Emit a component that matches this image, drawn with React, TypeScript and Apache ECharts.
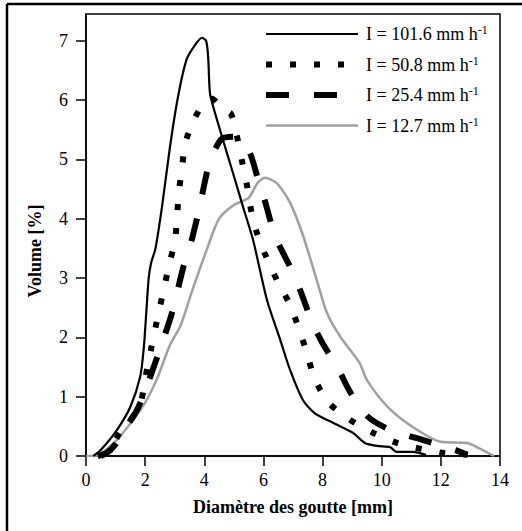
import React, { useEffect, useRef } from "react";
import * as echarts from "echarts";

const xTicks = [0, 2, 4, 6, 8, 10, 12, 14];
const yTicks = [0, 1, 2, 3, 4, 5, 6, 7];

const seriesNames = [
  "I = 101.6 mm h-1",
  "I = 50.8 mm h-1",
  "I = 25.4 mm h-1",
  "I = 12.7 mm h-1",
];

const diam101 = [0.25, 0.5, 1.05, 1.5, 1.83, 1.95, 2.05, 2.12, 2.2, 2.35, 2.57, 2.84, 3.11, 3.4, 3.69, 3.92, 4.06, 4.13, 4.19, 4.3, 4.63, 4.97, 5.31, 5.65, 6.12, 6.56, 6.9, 7.34, 7.74, 8.35, 9.03, 9.43, 9.84, 10.28, 10.5, 11.06, 11.5];
const vol101 = [0, 0.1, 0.44, 0.83, 1.33, 1.8, 2.5, 3.0, 3.25, 3.5, 4.2, 5.21, 6.05, 6.68, 6.93, 7.05, 7.0, 6.73, 6.12, 5.89, 5.33, 4.77, 4.2, 3.64, 2.63, 1.97, 1.45, 0.94, 0.72, 0.56, 0.39, 0.22, 0.17, 0.15, 0.07, 0.07, 0.02];

const diam50 = [0.5, 0.8, 1.15, 1.5, 1.85, 2.0, 2.2, 2.45, 2.65, 2.81, 3.01, 3.08, 3.14, 3.25, 3.35, 3.65, 4.0, 4.26, 4.6, 4.9, 5.1, 5.28, 5.44, 5.58, 5.78, 6.09, 6.49, 6.9, 7.2, 7.47, 7.71, 8.18, 8.9, 9.71, 10.52, 11.33, 12.1, 12.9];
const vol50 = [0, 0.1, 0.4, 0.6, 0.9, 1.3, 1.8, 2.4, 2.85, 3.22, 3.63, 4.03, 4.45, 4.86, 5.26, 5.67, 5.95, 6.02, 5.85, 5.77, 5.4, 4.96, 4.57, 4.15, 3.76, 3.36, 2.93, 2.55, 2.14, 1.74, 1.33, 0.91, 0.62, 0.39, 0.22, 0.12, 0.05, 0.02];

const diam25 = [0.4, 0.7, 1.0, 1.3, 1.7, 2.0, 2.5, 2.9, 3.3, 3.5, 3.8, 4.1, 4.3, 4.6, 5.0, 5.5, 5.8, 6.05, 6.4, 7.0, 7.3, 7.64, 8.0, 8.52, 8.93, 9.54, 10.28, 11.19, 11.9, 12.5, 12.9];
const vol25 = [0, 0.05, 0.2, 0.45, 0.75, 1.1, 1.8, 2.4, 3.2, 3.5, 4.1, 4.8, 5.1, 5.35, 5.38, 5.15, 4.7, 4.3, 3.7, 3.09, 2.72, 2.26, 1.9, 1.48, 1.08, 0.66, 0.44, 0.3, 0.19, 0.1, 0.02];

const diam12 = [0, 0.3, 1.0, 1.5, 2.0, 2.4, 2.84, 3.2, 3.6, 4.1, 4.5, 5.0, 5.5, 5.8, 6.05, 6.45, 6.9, 7.35, 7.8, 8.15, 8.6, 9.25, 9.5, 10.2, 11.05, 12.0, 12.9, 13.3, 13.8];
const vol12 = [0, 0, 0.25, 0.55, 0.9, 1.3, 1.87, 2.2, 2.8, 3.5, 4.0, 4.23, 4.35, 4.6, 4.69, 4.6, 4.27, 3.7, 2.97, 2.41, 2.01, 1.57, 1.28, 0.83, 0.49, 0.24, 0.22, 0.13, 0];

const FONT = "'Liberation Serif', 'Times New Roman', serif";

function pairs(xs: number[], ys: number[]) {
  return xs.map((x, i) => [x, ys[i]]);
}

export default function App() {
  const ref = useRef<HTMLDivElement>(null);
  useEffect(() => {
    document.body.style.margin = "0";
    if (!ref.current) return;
    const chart = echarts.init(ref.current, null, { renderer: "svg" });
    const styles = [
      { color: "#000", width: 2.2, type: "solid" as any },
      { color: "#000", width: 6, type: [6, 18] as any },
      { color: "#000", width: 6, type: [23, 25] as any },
      { color: "#a0a0a0", width: 2.5, type: "solid" as any },
    ];
    const datas = [
      pairs(diam101, vol101),
      pairs(diam50, vol50),
      pairs(diam25, vol25),
      pairs(diam12, vol12),
    ];
    chart.setOption({
      animation: false,
      backgroundColor: "#fff",
      textStyle: { fontFamily: FONT, color: "#000" },
      graphic: [
        { type: "line", shape: { x1: 7, y1: 4, x2: 7, y2: 531 }, style: { stroke: "#000", lineWidth: 2.5 } },
        { type: "line", shape: { x1: 7, y1: 4, x2: 522, y2: 4 }, style: { stroke: "#000", lineWidth: 2.5 } },
      ],
      grid: {
        left: 86,
        top: 14,
        width: 414,
        height: 442,
        show: true,
        borderColor: "#000",
        borderWidth: 1.5,
        containLabel: false,
        outerBoundsMode: "none",
      },
      legend: {
        orient: "vertical",
        left: 263,
        top: 24,
        padding: 0,
        itemWidth: 92,
        itemHeight: 14,
        itemGap: 11.5,
        data: seriesNames.map((n, i) => ({
          name: n,
          lineStyle: { color: styles[i].color, width: styles[i].width, type: styles[i].type, cap: "butt" },
        })),
        itemStyle: { color: "transparent", borderColor: "transparent", borderWidth: 0 },
        formatter: (name: string) => {
          const base = name.replace(/-1$/, "");
          return `{t|${base}}{s|-1}`;
        },
        textStyle: {
          fontFamily: FONT,
          color: "#000",
          fontSize: 18,
          padding: [0, 0, 0, 3],
          rich: {
            t: { fontFamily: FONT, fontSize: 18, color: "#000", lineHeight: 20 },
            s: { fontFamily: FONT, fontSize: 12, color: "#000", verticalAlign: "top", lineHeight: 13 },
          },
        },
      },
      xAxis: {
        type: "value",
        min: 0,
        max: 14,
        interval: 2,
        name: "Diamètre des goutte [mm]",
        nameLocation: "middle",
        nameGap: 42,
        nameTextStyle: { fontFamily: FONT, fontSize: 18, fontWeight: "bold", color: "#000" },
        axisLine: { show: true, onZero: false, lineStyle: { color: "#000", width: 1.5 } },
        axisTick: { show: true, length: 10, lineStyle: { color: "#000", width: 1.5 } },
        axisLabel: { fontFamily: FONT, fontSize: 18, color: "#000", margin: 15, customValues: xTicks },
        splitLine: { show: false },
      },
      yAxis: {
        type: "value",
        min: 0,
        max: 7.45,
        name: "Volume [%]",
        nameLocation: "middle",
        nameGap: 42,
        nameRotate: 90,
        nameTextStyle: { fontFamily: FONT, fontSize: 18, fontWeight: "bold", color: "#000", padding: [0, 32, 0, 0] },
        axisLine: { show: true, onZero: false, lineStyle: { color: "#000", width: 1.5 } },
        axisTick: { show: true, length: 10, lineStyle: { color: "#000", width: 1.5 }, customValues: yTicks },
        axisLabel: { fontFamily: FONT, fontSize: 18, color: "#000", margin: 18, customValues: yTicks },
        splitLine: { show: false },
      },
      series: seriesNames.map((n, i) => ({
        name: n,
        type: "line",
        data: datas[i],
        symbol: "none",
        smooth: 0.25,
        z: 4 - i,
        lineStyle: { color: styles[i].color, width: styles[i].width, type: styles[i].type, cap: "butt", join: "round" },
        itemStyle: { color: styles[i].color },
      })),
    });
    return () => chart.dispose();
  }, []);
  return <div ref={ref} style={{ width: 522, height: 531 }} />;
}
